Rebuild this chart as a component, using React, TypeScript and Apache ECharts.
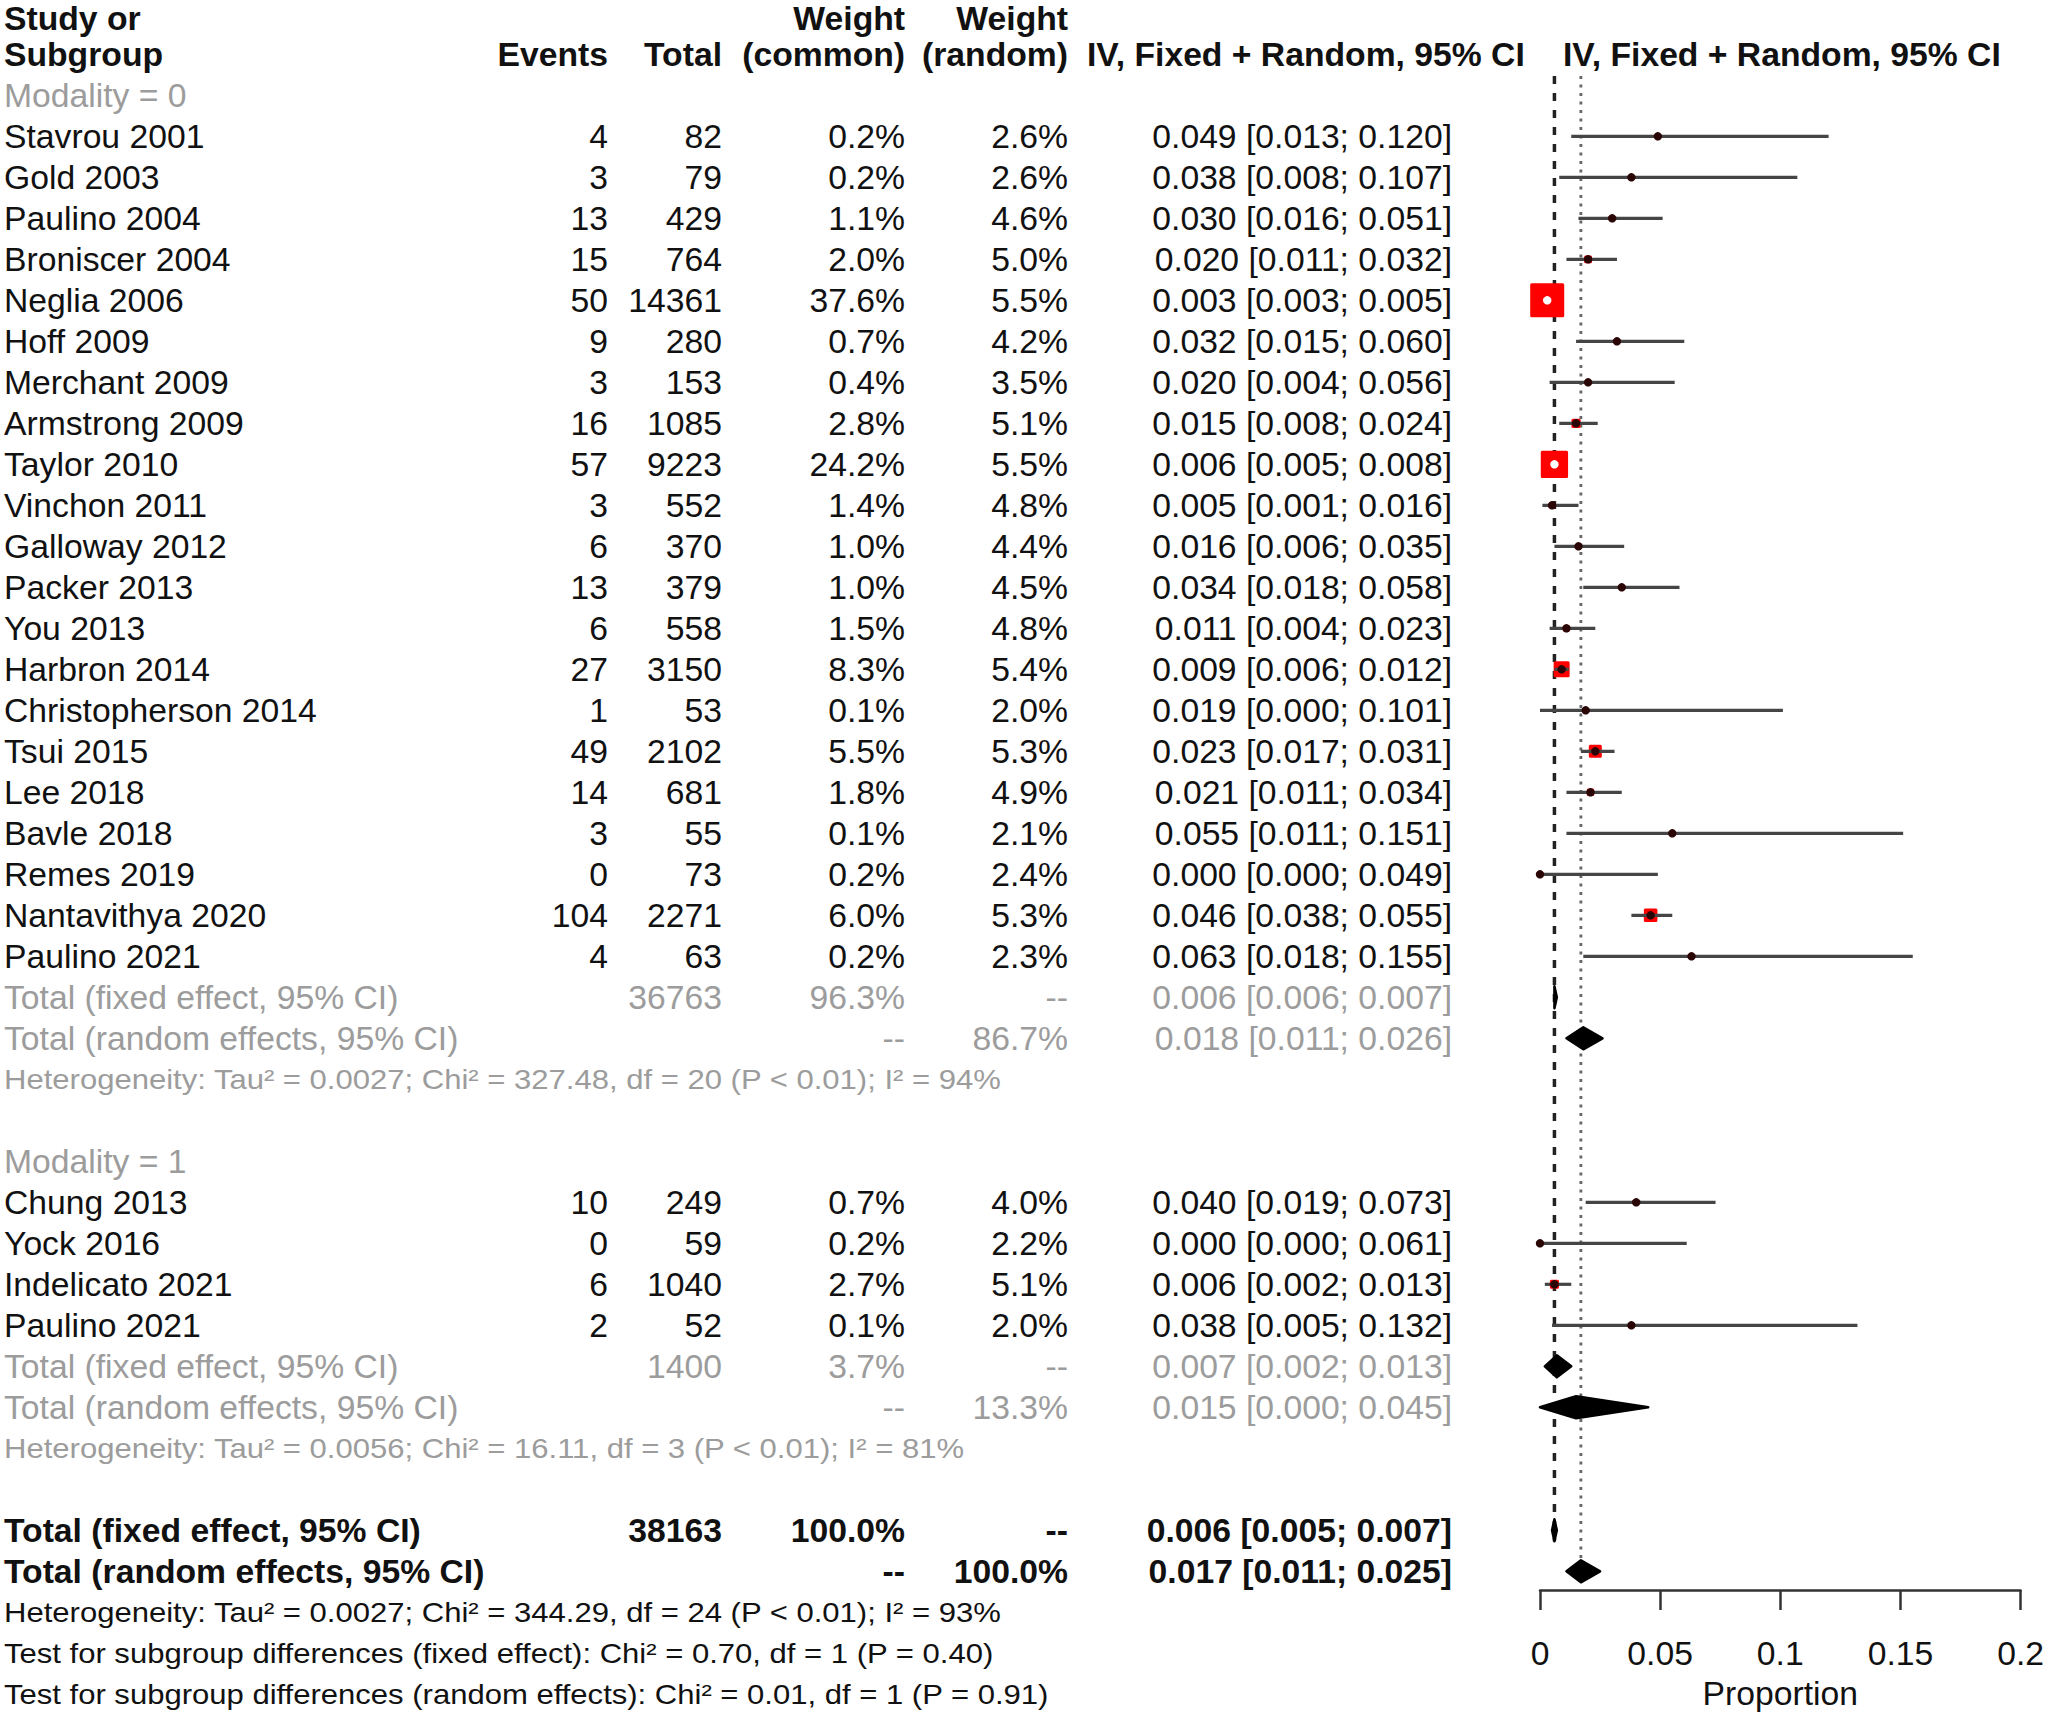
import React, { useEffect, useRef } from 'react';
import * as echarts from 'echarts';

// ---------- data ----------
const studyNames0 = ['Stavrou 2001', 'Gold 2003', 'Paulino 2004', 'Broniscer 2004', 'Neglia 2006', 'Hoff 2009', 'Merchant 2009', 'Armstrong 2009', 'Taylor 2010', 'Vinchon 2011', 'Galloway 2012', 'Packer 2013', 'You 2013', 'Harbron 2014', 'Christopherson 2014', 'Tsui 2015', 'Lee 2018', 'Bavle 2018', 'Remes 2019', 'Nantavithya 2020', 'Paulino 2021'];
const events0 = [4, 3, 13, 15, 50, 9, 3, 16, 57, 3, 6, 13, 6, 27, 1, 49, 14, 3, 0, 104, 4];
const totals0 = [82, 79, 429, 764, 14361, 280, 153, 1085, 9223, 552, 370, 379, 558, 3150, 53, 2102, 681, 55, 73, 2271, 63];
const wCommon0 = [0.2, 0.2, 1.1, 2.0, 37.6, 0.7, 0.4, 2.8, 24.2, 1.4, 1.0, 1.0, 1.5, 8.3, 0.1, 5.5, 1.8, 0.1, 0.2, 6.0, 0.2];
const wRandom0 = [2.6, 2.6, 4.6, 5.0, 5.5, 4.2, 3.5, 5.1, 5.5, 4.8, 4.4, 4.5, 4.8, 5.4, 2.0, 5.3, 4.9, 2.1, 2.4, 5.3, 2.3];
const est0 = [0.049, 0.038, 0.030, 0.020, 0.003, 0.032, 0.020, 0.015, 0.006, 0.005, 0.016, 0.034, 0.011, 0.009, 0.019, 0.023, 0.021, 0.055, 0.000, 0.046, 0.063];
const lower0 = [0.013, 0.008, 0.016, 0.011, 0.003, 0.015, 0.004, 0.008, 0.005, 0.001, 0.006, 0.018, 0.004, 0.006, 0.000, 0.017, 0.011, 0.011, 0.000, 0.038, 0.018];
const upper0 = [0.120, 0.107, 0.051, 0.032, 0.005, 0.060, 0.056, 0.024, 0.008, 0.016, 0.035, 0.058, 0.023, 0.012, 0.101, 0.031, 0.034, 0.151, 0.049, 0.055, 0.155];

const studyNames1 = ['Chung 2013', 'Yock 2016', 'Indelicato 2021', 'Paulino 2021'];
const events1 = [10, 0, 6, 2];
const totals1 = [249, 59, 1040, 52];
const wCommon1 = [0.7, 0.2, 2.7, 0.1];
const wRandom1 = [4.0, 2.2, 5.1, 2.0];
const est1 = [0.040, 0.000, 0.006, 0.038];
const lower1 = [0.019, 0.000, 0.002, 0.005];
const upper1 = [0.073, 0.061, 0.013, 0.132];

const subgroupLabels = ['Modality = 0', 'Modality = 1'];
const subgroupTotals = [36763, 1400];
const subgroupWCommon = [96.3, 3.7];
const subgroupWRandom = [86.7, 13.3];
const subFixedEst = [0.006, 0.007];
const subFixedLo = [0.006, 0.002];
const subFixedHi = [0.007, 0.013];
const subRandomEst = [0.018, 0.015];
const subRandomLo = [0.011, 0.000];
const subRandomHi = [0.026, 0.045];
const subgroupHet = [
  'Heterogeneity: Tau² = 0.0027; Chi² = 327.48, df = 20 (P < 0.01); I² = 94%',
  'Heterogeneity: Tau² = 0.0056; Chi² = 16.11, df = 3 (P < 0.01); I² = 81%',
];

const overallTotal = 38163;
const overallWeights = [100.0, 100.0];
const overallFixed = [0.006, 0.005, 0.007];
const overallRandom = [0.017, 0.011, 0.025];
const overallStats = [
  'Heterogeneity: Tau² = 0.0027; Chi² = 344.29, df = 24 (P < 0.01); I² = 93%',
  'Test for subgroup differences (fixed effect): Chi² = 0.70, df = 1 (P = 0.40)',
  'Test for subgroup differences (random effects): Chi² = 0.01, df = 1 (P = 0.91)',
];

const xTicks = [0, 0.05, 0.1, 0.15, 0.2];
const xTickLabels = ['0', '0.05', '0.1', '0.15', '0.2'];
const headerCI = 'IV, Fixed + Random, 95% CI';

// ---------- layout / styles ----------
const FONT = '"Liberation Sans", Arial, Helvetica, sans-serif';
const GREY = '#9c9c9c';
const INK = '#111';
const FS = 33.7;
const COL = { study: 4, events: 608, total: 722, wc: 905, wr: 1068, ci: 1452, iv1: 1087, iv2: 1563 };
const BOX_K = 5.55;

type Cell = { t: string; x: number; a: 'left' | 'right'; c?: string; b?: boolean; s?: boolean };
const fmtCI = (e: number, l: number, h: number) => `${e.toFixed(3)} [${l.toFixed(3)}; ${h.toFixed(3)}]`;
const pct = (v: number) => v.toFixed(1) + '%';

const rows: { row: number; top?: boolean; cells: Cell[] }[] = [];
const marks: number[][] = [];
const diamonds: number[][] = [];

rows.push({ row: -3, top: true, cells: [
  { t: 'Study or', x: COL.study, a: 'left', b: true },
  { t: 'Weight', x: COL.wc, a: 'right', b: true },
  { t: 'Weight', x: COL.wr, a: 'right', b: true },
] });
rows.push({ row: -2, cells: [
  { t: 'Subgroup', x: COL.study, a: 'left', b: true },
  { t: 'Events', x: COL.events, a: 'right', b: true },
  { t: 'Total', x: COL.total, a: 'right', b: true },
  { t: '(common)', x: COL.wc, a: 'right', b: true },
  { t: '(random)', x: COL.wr, a: 'right', b: true },
  { t: headerCI, x: COL.iv1, a: 'left', b: true },
  { t: headerCI, x: COL.iv2, a: 'left', b: true },
] });

const groups = [
  { names: studyNames0, ev: events0, n: totals0, wc: wCommon0, wr: wRandom0, e: est0, l: lower0, h: upper0 },
  { names: studyNames1, ev: events1, n: totals1, wc: wCommon1, wr: wRandom1, e: est1, l: lower1, h: upper1 },
];

let r = -1;
groups.forEach((g, gi) => {
  rows.push({ row: r, cells: [{ t: subgroupLabels[gi], x: COL.study, a: 'left', c: GREY }] });
  r++;
  g.names.forEach((name, i) => {
    rows.push({ row: r, cells: [
      { t: name, x: COL.study, a: 'left' },
      { t: String(g.ev[i]), x: COL.events, a: 'right' },
      { t: String(g.n[i]), x: COL.total, a: 'right' },
      { t: pct(g.wc[i]), x: COL.wc, a: 'right' },
      { t: pct(g.wr[i]), x: COL.wr, a: 'right' },
      { t: fmtCI(g.e[i], g.l[i], g.h[i]), x: COL.ci, a: 'right' },
    ] });
    marks.push([g.e[i], r, g.l[i], g.h[i], g.wc[i]]);
    r++;
  });
  rows.push({ row: r, cells: [
    { t: 'Total (fixed effect, 95% CI)', x: COL.study, a: 'left', c: GREY },
    { t: String(subgroupTotals[gi]), x: COL.total, a: 'right', c: GREY },
    { t: pct(subgroupWCommon[gi]), x: COL.wc, a: 'right', c: GREY },
    { t: '--', x: COL.wr, a: 'right', c: GREY },
    { t: fmtCI(subFixedEst[gi], subFixedLo[gi], subFixedHi[gi]), x: COL.ci, a: 'right', c: GREY },
  ] });
  diamonds.push([subFixedEst[gi], r, subFixedLo[gi], subFixedHi[gi]]);
  r++;
  rows.push({ row: r, cells: [
    { t: 'Total (random effects, 95% CI)', x: COL.study, a: 'left', c: GREY },
    { t: '--', x: COL.wc, a: 'right', c: GREY },
    { t: pct(subgroupWRandom[gi]), x: COL.wr, a: 'right', c: GREY },
    { t: fmtCI(subRandomEst[gi], subRandomLo[gi], subRandomHi[gi]), x: COL.ci, a: 'right', c: GREY },
  ] });
  diamonds.push([subRandomEst[gi], r, subRandomLo[gi], subRandomHi[gi]]);
  r++;
  rows.push({ row: r, cells: [{ t: subgroupHet[gi], x: COL.study, a: 'left', c: GREY, s: true }] });
  r += 2;
});

const fixedRow = r;
rows.push({ row: r, cells: [
  { t: 'Total (fixed effect, 95% CI)', x: COL.study, a: 'left', b: true },
  { t: String(overallTotal), x: COL.total, a: 'right', b: true },
  { t: pct(overallWeights[0]), x: COL.wc, a: 'right', b: true },
  { t: '--', x: COL.wr, a: 'right', b: true },
  { t: fmtCI(overallFixed[0], overallFixed[1], overallFixed[2]), x: COL.ci, a: 'right', b: true },
] });
diamonds.push([overallFixed[0], r, overallFixed[1], overallFixed[2]]);
r++;
const randomRow = r;
rows.push({ row: r, cells: [
  { t: 'Total (random effects, 95% CI)', x: COL.study, a: 'left', b: true },
  { t: '--', x: COL.wc, a: 'right', b: true },
  { t: pct(overallWeights[1]), x: COL.wr, a: 'right', b: true },
  { t: fmtCI(overallRandom[0], overallRandom[1], overallRandom[2]), x: COL.ci, a: 'right', b: true },
] });
diamonds.push([overallRandom[0], r, overallRandom[1], overallRandom[2]]);
r++;
overallStats.forEach((s) => {
  rows.push({ row: r, cells: [{ t: s, x: COL.study, a: 'left', s: true }] });
  r++;
});

const DIA_H = 11;
const refLines = [
  [overallFixed[0], -1.47, fixedRow, DIA_H, 0],
  [overallRandom[0], -1.47, randomRow, -DIA_H, 1],
];

export default function App() {
  const ref = useRef<HTMLDivElement>(null);
  useEffect(() => {
    if (!ref.current) return;
    const chart = echarts.init(ref.current, undefined, { renderer: 'svg' });
    const option: any = {
      animation: false,
      backgroundColor: '#ffffff',
      grid: [
        { left: 1540, width: 481, top: 13.3, height: 1681 },
        { left: 1540, width: 481, top: 1490, height: 100 },
      ],
      xAxis: [
        { gridIndex: 0, type: 'value', min: 0, max: 0.2, show: false },
        {
          gridIndex: 1, type: 'value', min: 0, max: 0.2, interval: 0.05,
          axisLine: { show: true, onZero: false, lineStyle: { color: '#333', width: 2.5 } },
          axisTick: { show: true, length: 20, lineStyle: { color: '#333', width: 2.5 } },
          splitLine: { show: false },
          axisLabel: {
            margin: 46, fontSize: FS, color: INK, fontFamily: FONT, showMaxLabel: true, showMinLabel: true,
            formatter: (v: number) => {
              const i = xTicks.findIndex((t) => Math.abs(t - v) < 1e-9);
              return i >= 0 ? xTickLabels[i] : '';
            },
          },
          name: 'Proportion', nameLocation: 'middle', nameGap: 86,
          nameTextStyle: { fontSize: FS, color: INK, fontFamily: FONT },
        },
      ],
      yAxis: [
        { gridIndex: 0, type: 'value', min: -3, max: 38, inverse: true, show: false },
        { gridIndex: 1, type: 'value', min: 0, max: 1, show: false },
      ],
      series: [
        {
          type: 'custom', name: 'refLines', xAxisIndex: 0, yAxisIndex: 0, clip: false, z: 1,
          data: refLines,
          renderItem: (params: any, api: any) => {
            const x = api.value(0);
            const top = api.coord([x, api.value(1)]);
            const bot = api.coord([x, api.value(2)]);
            const dotted = api.value(4) === 1;
            return {
              type: 'line',
              shape: { x1: top[0], y1: top[1], x2: bot[0], y2: bot[1] + api.value(3) },
              style: dotted
                ? { stroke: '#666', lineWidth: 2.8, lineDash: [3, 5.5] }
                : { stroke: '#222', lineWidth: 3.5, lineDash: [8, 9] },
            };
          },
        },
        {
          type: 'custom', name: 'studies', xAxisIndex: 0, yAxisIndex: 0, clip: false, z: 3,
          data: marks,
          renderItem: (params: any, api: any) => {
            const est = api.value(0), row = api.value(1), lo = api.value(2), hi = api.value(3), w = api.value(4);
            const c = api.coord([est, row]);
            const l = api.coord([lo, row]);
            const h = api.coord([hi, row]);
            const side = BOX_K * Math.sqrt(w);
            const inside = h[0] - l[0] < side * 0.6;
            const children: any[] = [
              { type: 'rect', shape: { x: c[0] - side / 2, y: c[1] - side / 2, width: side, height: side, r: 1.5 }, style: { fill: '#ff0000' } },
            ];
            if (!inside) {
              children.push({ type: 'line', shape: { x1: l[0], y1: c[1], x2: h[0], y2: c[1] }, style: { stroke: '#454545', lineWidth: 3.2 } });
            }
            children.push({ type: 'circle', shape: { cx: c[0], cy: c[1], r: 4.2 }, style: { fill: inside ? '#ffffff' : '#2a0505' } });
            return { type: 'group', children };
          },
        },
        {
          type: 'custom', name: 'diamonds', xAxisIndex: 0, yAxisIndex: 0, clip: false, z: 4,
          data: diamonds,
          renderItem: (params: any, api: any) => {
            const row = api.value(1);
            const c = api.coord([api.value(0), row]);
            const l = api.coord([api.value(2), row]);
            const h = api.coord([api.value(3), row]);
            return {
              type: 'polygon',
              shape: { points: [[l[0], c[1]], [c[0], c[1] - DIA_H], [h[0], c[1]], [c[0], c[1] + DIA_H]] },
              style: { fill: '#000', stroke: '#000', lineWidth: 2.5, lineJoin: 'round' },
            };
          },
        },
        {
          type: 'custom', name: 'table', xAxisIndex: 0, yAxisIndex: 0, clip: false, z: 5,
          data: rows.map((d) => [0, d.row]),
          renderItem: (params: any, api: any) => {
            const def = rows[params.dataIndex];
            const y = def.top ? 1 : api.coord([0, def.row])[1];
            return {
              type: 'group',
              children: def.cells.map((c) => ({
                type: 'text',
                x: c.x,
                y: y,
                scaleX: c.s ? 1.15 : 1,
                style: {
                  text: c.t,
                  fill: c.c || INK,
                  fontFamily: FONT,
                  fontSize: c.s ? 27 : FS,
                  lineHeight: c.s ? 30 : 34,
                  fontWeight: c.b ? 'bold' : 'normal',
                  align: c.a,
                  verticalAlign: def.top ? 'top' : 'middle',
                },
              })),
            };
          },
        },
        { type: 'custom', name: 'axisHolder', xAxisIndex: 1, yAxisIndex: 1, data: [], renderItem: () => null },
      ],
    };
    chart.setOption(option);
    return () => chart.dispose();
  }, []);
  return <div ref={ref} style={{ position: 'absolute', left: 0, top: 0, width: 2047, height: 1714 }} />;
}
